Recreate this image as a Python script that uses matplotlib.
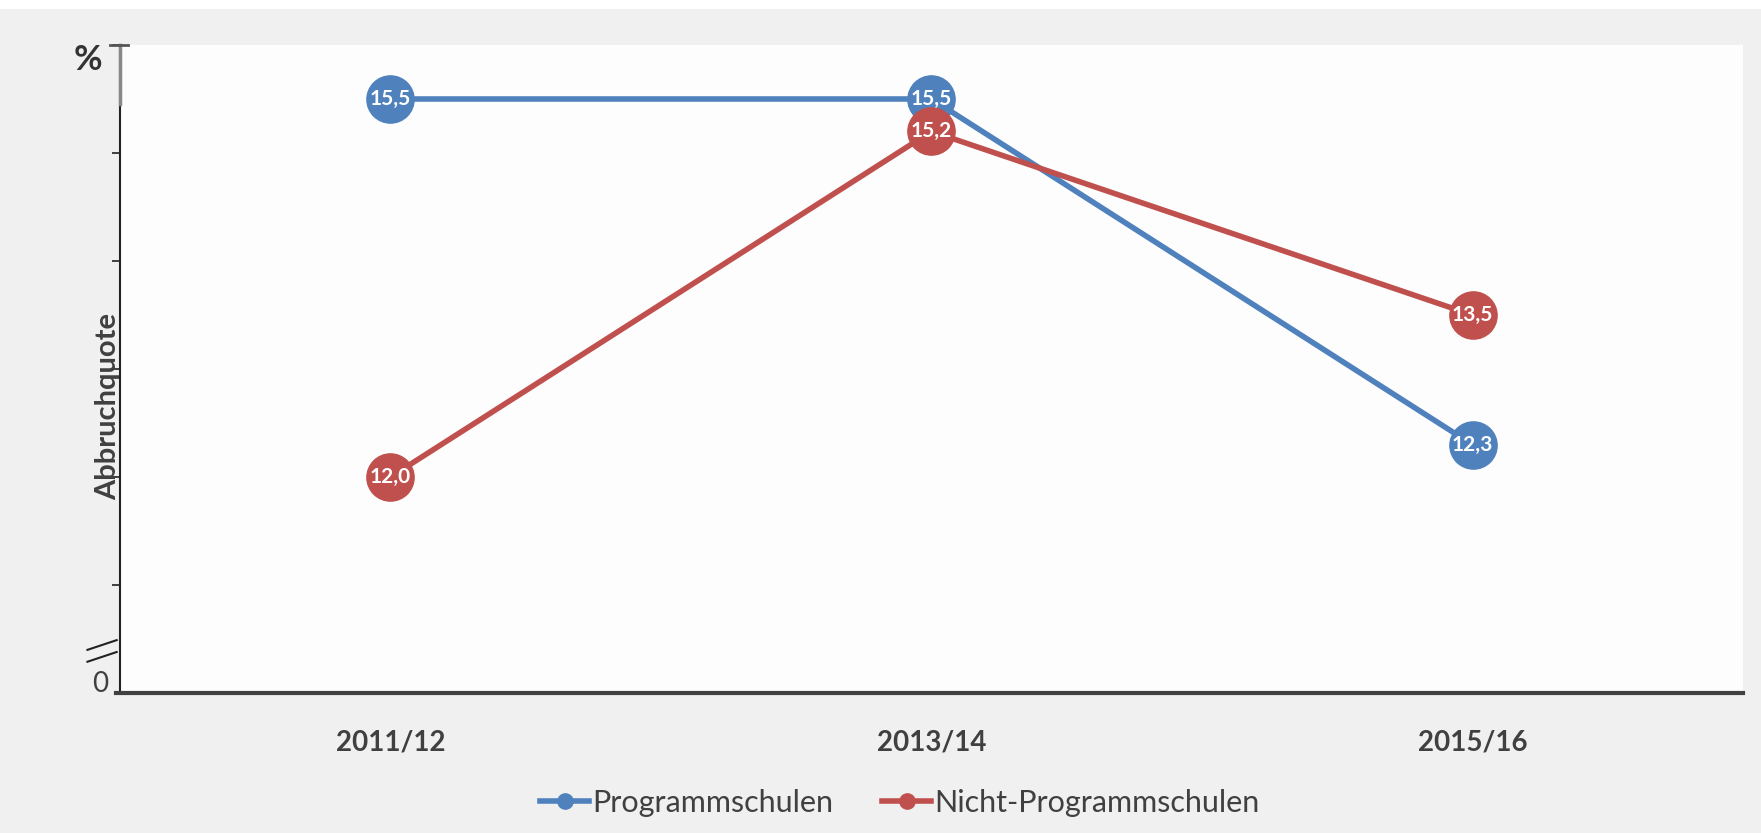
import matplotlib.pyplot as plt
import matplotlib.transforms as mtransforms

# data
years = ["2011/12", "2013/14", "2015/16"]
programm = [15.5, 15.5, 12.3]
nicht_programm = [12.0, 15.2, 13.5]
series_names = ["Programmschulen", "Nicht-Programmschulen"]

blue = "#4F81BD"
red = "#C0504D"
txt = "#404040"

plt.rcParams['font.family'] = ['Lato', 'DejaVu Sans']

fig = plt.figure(figsize=(17.61, 8.33), dpi=100, facecolor="#f0f0f0")
# thin white strip at the very top
fig.patches.append(plt.Rectangle((0, 0.989), 1, 0.011, transform=fig.transFigure,
                                 facecolor="white", edgecolor="none"))

ax = fig.add_axes([0.0681, 0.168, 0.9217, 0.778])
ax.set_facecolor("#fdfdfd")

x = list(range(len(years)))
for vals, col in [(programm, blue), (nicht_programm, red)]:
    ax.plot(x, vals, color=col, lw=4, marker="o", markersize=34, zorder=3)
    for xi, v in zip(x, vals):
        ax.text(xi, v, f"{v:.1f}".replace(".", ","), color="white", fontsize=15,
                fontweight="bold", ha="center", va="center", zorder=4)

ax.set_xlim(-0.5, 2.5)
ax.set_ylim(10, 16)

ax.spines["top"].set_visible(False)
ax.spines["right"].set_visible(False)
ax.spines["left"].set_color("#222222")
ax.spines["left"].set_linewidth(1.5)
ax.spines["bottom"].set_color("#404040")
ax.spines["bottom"].set_linewidth(3)
ax.spines["bottom"].set_bounds(-0.507, 2.5)

ax.set_xticks(x)
ax.set_xticklabels(years, fontsize=20, fontweight="bold", color=txt)
ax.tick_params(axis="x", length=0, pad=26)

ax.set_yticks(range(11, 17))
ax.set_yticklabels([""] * 6)
ax.tick_params(axis="y", direction="out", length=6, width=1.2, color="#222222")

tr = mtransforms.blended_transform_factory(ax.transAxes, ax.transData)
# "0" at the bottom of the broken axis
ax.text(-0.0075, 10.01, "0", transform=tr, fontsize=20, color=txt,
        ha="right", va="baseline", clip_on=False)

ax.set_ylabel("Abbruchquote", fontsize=21, fontweight="bold", color=txt)
ax.yaxis.set_label_coords(0.001, 0.442)

# "%" at the top of the y axis
ax.text(-0.0197, 15.86, "%", transform=tr, fontsize=25, fontweight="bold",
        color="#333333", ha="center", va="center", clip_on=False)

# lighter top part of the axis and the bracket
ax.plot([0, 0], [16, 15.45], color="#888888", lw=2.5, transform=tr, clip_on=False, zorder=5)
ax.plot([-0.006, 0.005], [16, 16], color="#555555", lw=2, transform=tr, clip_on=False, zorder=5)

# axis break marks
for y0 in [10.29, 10.40]:
    ax.plot([-0.020, -0.002], [y0, y0 + 0.09], color="#222222", lw=1.5,
            transform=tr, clip_on=False)

handles = [plt.Line2D([], [], color=blue, lw=4, marker="o", markersize=11),
           plt.Line2D([], [], color=red, lw=4, marker="o", markersize=11)]
fig.legend(handles, series_names, loc="center", bbox_to_anchor=(0.511, 0.036), ncol=2,
           frameon=False, fontsize=22, handlelength=1.6, handletextpad=0.1,
           columnspacing=1.6, labelcolor=txt)

fig.savefig("out.png", dpi=100, facecolor=fig.get_facecolor())
